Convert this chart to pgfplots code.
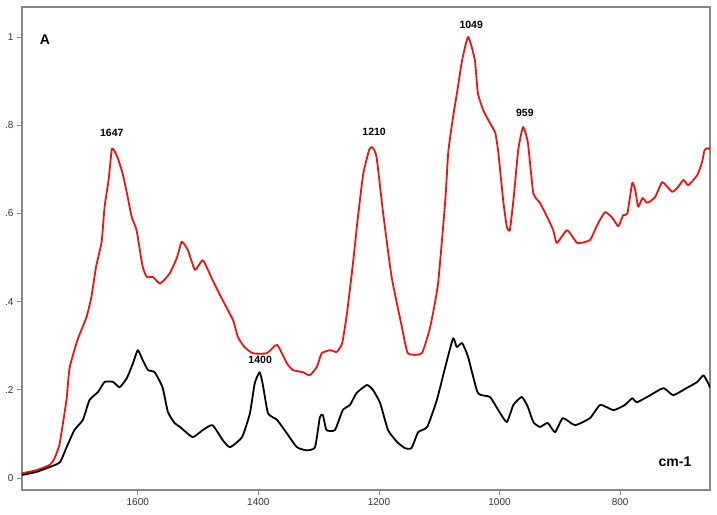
\documentclass[border=0pt]{standalone}
\usepackage{fontspec}
\setmainfont{Liberation Sans}
\usepackage{pgfplots}
\pgfplotsset{compat=1.18}
\definecolor{framegray}{RGB}{135,135,135}
\definecolor{specred}{RGB}{235,20,20}
\begin{document}
\begin{tikzpicture}[x=1pt,y=1pt]
\useasboundingbox (-22,-24) rectangle (695,490);
\begin{axis}[
    at={(0,0)}, anchor=south west,
    scale only axis, width=688pt, height=483pt,
    x dir=reverse,
    xmin=651, xmax=1792, ymin=-0.027, ymax=1.068,
    axis line style={draw=framegray, line width=2.2pt},
    tick align=outside, xtick pos=bottom, ytick pos=left,
    major tick length=5pt,
    tick style={framegray, line width=0.8pt},
    xtick={800,1000,1200,1400,1600},
    xticklabels={800,1000,1200,1400,1600},
    ytick={0,0.2,0.4,0.6,0.8,1},
    yticklabels={0,.2,.4,.6,.8,1},
    ticklabel style={font=\fontsize{10}{12}\selectfont, text=black!80},
    /pgf/number format/assume math mode=true,
    clip=true,
  ]
% sample (red)
\addplot[specred, line width=1.8pt, line join=round, smooth, tension=0.3] coordinates {
 (1792,0.011) (1768,0.018) (1746,0.030) (1738,0.045) (1730,0.075)
 (1724,0.125) (1718,0.18) (1713,0.25) (1700,0.313) (1685,0.365)
 (1677,0.41) (1669,0.48) (1660,0.535) (1655,0.615) (1648,0.68)
 (1643,0.746) (1638,0.74) (1633,0.725) (1625,0.69) (1618,0.646)
 (1610,0.592) (1602,0.562) (1592,0.48) (1585,0.456) (1575,0.456)
 (1563,0.441) (1547,0.464) (1535,0.50) (1527,0.536) (1517,0.517)
 (1505,0.472) (1492,0.494) (1476,0.449) (1461,0.408) (1442,0.358)
 (1434,0.32) (1423,0.297) (1409,0.283) (1386,0.283) (1369,0.302)
 (1353,0.261) (1343,0.245) (1326,0.24) (1315,0.233) (1303,0.252)
 (1295,0.283) (1281,0.29) (1270,0.286) (1261,0.306) (1253,0.374)
 (1243,0.488) (1235,0.59) (1226,0.69) (1216,0.745) (1211,0.75)
 (1204,0.728) (1193,0.60) (1179,0.456) (1162,0.343) (1152,0.283)
 (1129,0.283) (1115,0.343) (1102,0.441) (1090,0.63) (1085,0.74)
 (1077,0.819) (1069,0.887) (1062,0.948) (1052,1.0) (1041,0.948)
 (1036,0.873) (1027,0.834) (1016,0.805) (1007,0.782) (1002,0.737)
 (994,0.63) (988,0.57) (983,0.562) (977,0.63) (969,0.744)
 (961,0.796) (953,0.76) (944,0.646) (933,0.624) (921,0.592)
 (911,0.562) (905,0.533) (888,0.562) (871,0.533) (850,0.54)
 (838,0.574) (825,0.603) (813,0.59) (803,0.571) (795,0.596)
 (788,0.60) (780,0.669) (775,0.653) (770,0.615) (763,0.635)
 (755,0.624) (742,0.637) (730,0.671) (714,0.649) (704,0.66)
 (695,0.676) (687,0.664) (672,0.687) (664,0.717) (660,0.744)
 (654,0.748) (651,0.745)
};
% reference (black)
\addplot[black, line width=1.8pt, line join=round, smooth, tension=0.3] coordinates {
 (1792,0.007) (1768,0.014) (1746,0.025) (1729,0.036) (1718,0.07)
 (1705,0.109) (1691,0.132) (1680,0.177) (1666,0.195) (1655,0.218)
 (1641,0.218) (1630,0.206) (1618,0.227) (1608,0.26) (1600,0.29)
 (1592,0.268) (1583,0.245) (1572,0.24) (1559,0.206) (1550,0.15)
 (1539,0.125) (1530,0.116) (1509,0.093) (1492,0.109) (1476,0.12)
 (1459,0.086) (1447,0.07) (1427,0.093) (1414,0.147) (1406,0.215)
 (1398,0.24) (1393,0.215) (1384,0.147) (1369,0.132) (1353,0.102)
 (1336,0.07) (1320,0.063) (1306,0.07) (1298,0.138) (1293,0.143)
 (1287,0.109) (1273,0.109) (1260,0.154) (1248,0.166) (1237,0.193)
 (1220,0.211) (1210,0.20) (1198,0.17) (1185,0.109) (1170,0.082)
 (1157,0.068) (1146,0.068) (1135,0.104) (1120,0.116) (1104,0.177)
 (1090,0.252) (1077,0.317) (1071,0.297) (1062,0.306) (1052,0.274)
 (1036,0.193) (1016,0.184) (1002,0.154) (988,0.127) (977,0.166)
 (963,0.184) (953,0.161) (944,0.127) (933,0.116) (920,0.125)
 (908,0.104) (895,0.136) (875,0.12) (850,0.136) (833,0.166)
 (811,0.154) (792,0.166) (780,0.181) (772,0.172) (750,0.188)
 (728,0.204) (712,0.188) (690,0.204) (672,0.218) (662,0.233)
 (654,0.215) (651,0.205)
};
\begin{scope}[font=\bfseries\fontsize{10.5}{12}\selectfont]
\node at (axis cs:1643,0.782) {1647};
\node at (axis cs:1208,0.785) {1210};
\node at (axis cs:1047,1.027) {1049};
\node at (axis cs:958,0.828) {959};
\node at (axis cs:1397,0.268) {1400};
\end{scope}
\node[font=\bfseries\fontsize{14}{16}\selectfont] at (axis cs:1754,0.995) {A};
\node[font=\bfseries\fontsize{14}{16}\selectfont] at (axis cs:709,0.036) {cm-1};
\end{axis}
\end{tikzpicture}
\end{document}
